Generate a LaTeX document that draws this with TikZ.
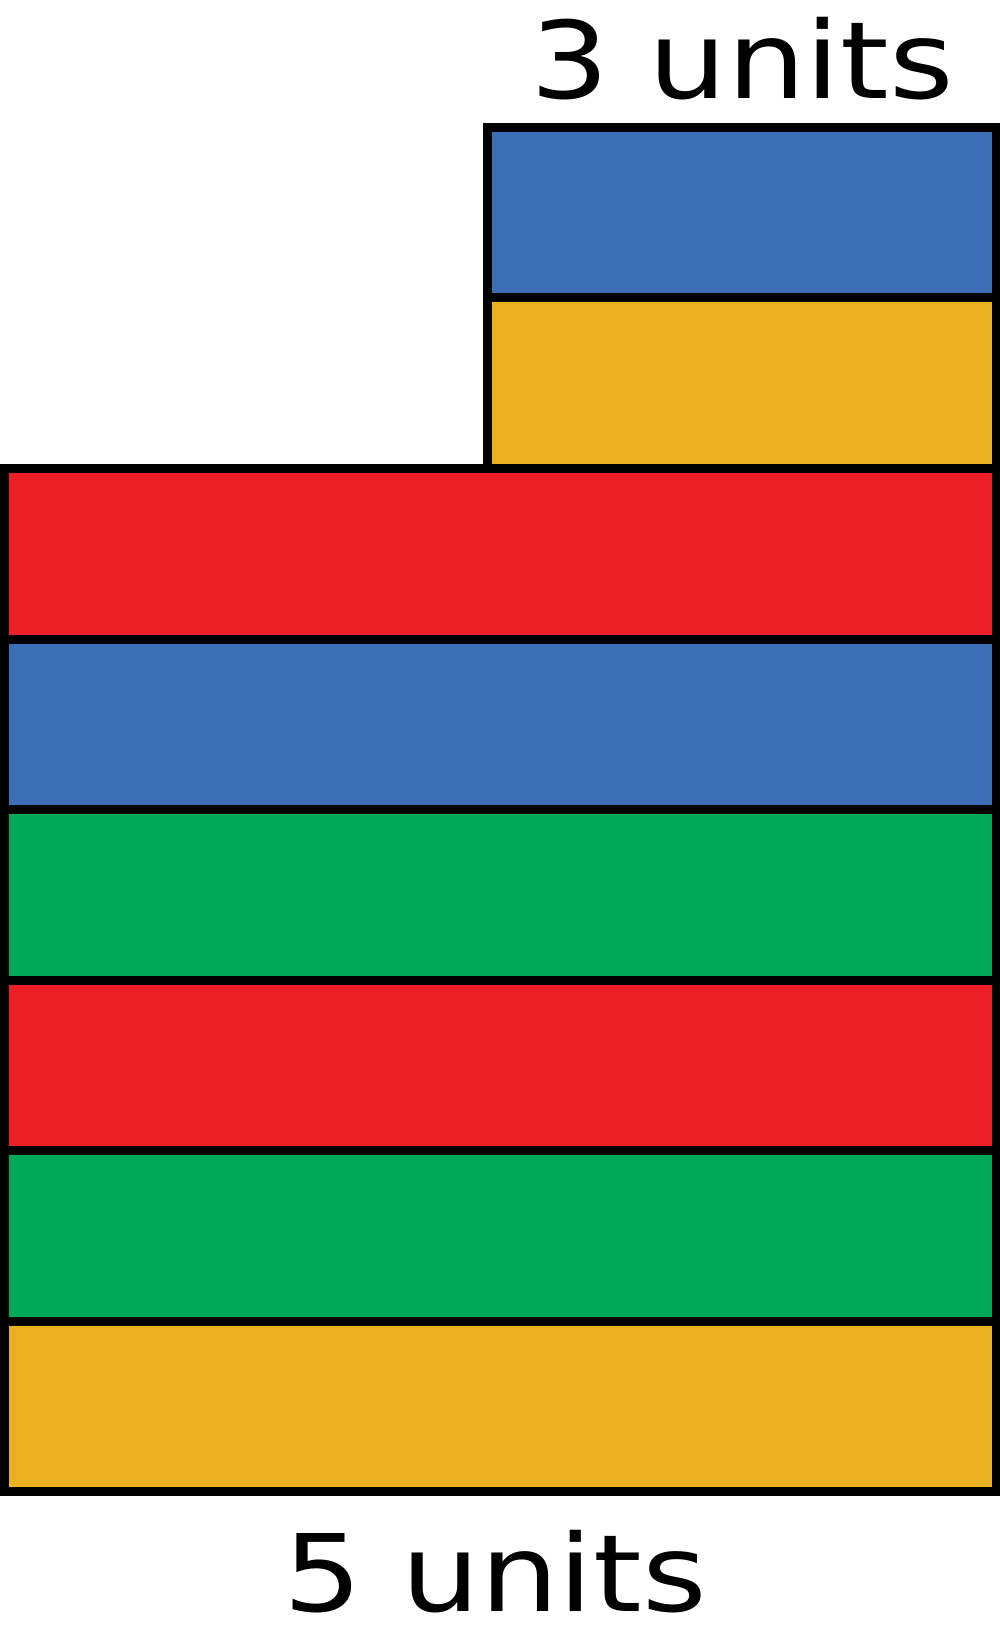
\documentclass[tikz,border=0pt]{standalone}
\usepackage{fontspec}
\setmainfont{DejaVu Sans}
\usepackage{xcolor}

\definecolor{barblue}{HTML}{3B6EB4}
\definecolor{baryellow}{HTML}{E9B022}
\definecolor{barred}{HTML}{ED1F26}
\definecolor{bargreen}{HTML}{00A95A}

\begin{document}
\begin{tikzpicture}[x=1pt,
					y=-1pt,
					line width=9pt,
					bar/.style={draw=black},
					units label/.style={anchor=base,inner sep=0pt,xscale=1.16,
						font=\fontsize{107}{107}\selectfont}]
  \useasboundingbox (0,0) rectangle (1000,1645);

  % short stack (3 units)
  \foreach \col [count=\i from 0] in {barblue,baryellow}
    \draw[bar,fill=\col] (487,127.5+170.3*\i) rectangle (996,127.5+170.3*\i+170.3);

  % long stack (5 units)
  \foreach \col [count=\i from 0] in {barred,barblue,bargreen,barred,bargreen,baryellow}
    \draw[bar,fill=\col] (4.5,468.8+170.45*\i) rectangle (996,468.8+170.45*\i+170.45);

  \node[units label] (top) at (742,99) {3 units};
  \node[units label] (bottom) at (495,1611) {5 units};
\end{tikzpicture}
\end{document}
